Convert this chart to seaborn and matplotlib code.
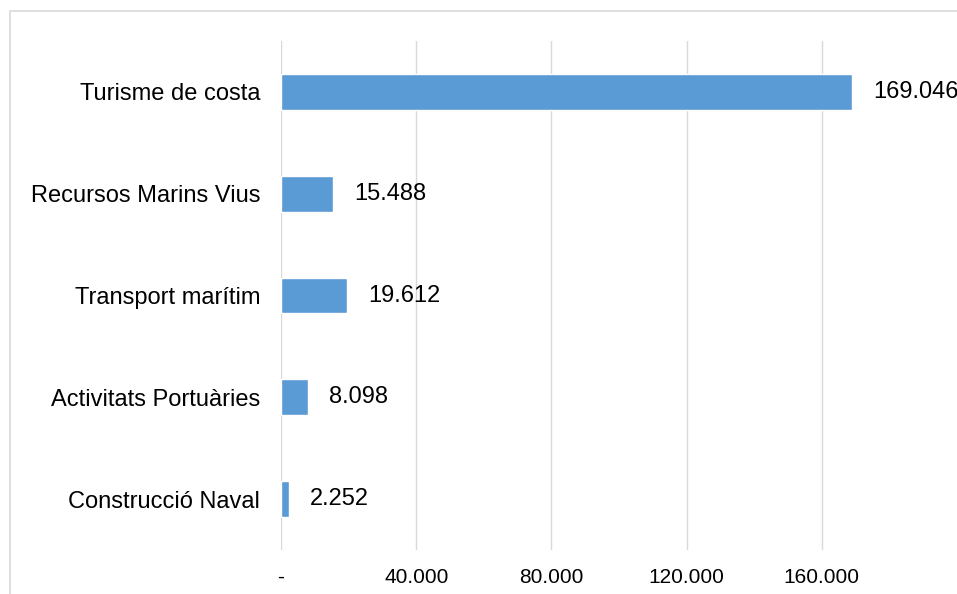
"""Horizontal bar chart: employment by maritime sector."""

import matplotlib.pyplot as plt
import pandas as pd
import seaborn as sns
from matplotlib.patches import Rectangle

sectors = [
    "Turisme de costa",
    "Recursos Marins Vius",
    "Transport marítim",
    "Activitats Portuàries",
    "Construcció Naval",
]
values = [169046, 15488, 19612, 8098, 2252]
tick_values = [0, 40000, 80000, 120000, 160000]
tick_labels = ["-", "40.000", "80.000", "120.000", "160.000"]
x_max = 200000

BAR_COLOR = "#5B9BD5"
GRID_COLOR = "#D9D9D9"


def fmt_thousands(v: float) -> str:
    return f"{int(round(v)):,}".replace(",", ".")


def main() -> None:
    df = pd.DataFrame({"sector": sectors, "value": values})

    sns.set_theme(style="white")
    plt.rcParams["font.family"] = ["Liberation Sans", "DejaVu Sans"]

    fig = plt.figure(figsize=(9.57, 5.94), dpi=100)
    ax = fig.add_axes([281 / 957, 1 - 550 / 594, 1 - 281 / 957, (550 - 41) / 594])

    # outer chart border (cropped on the right and bottom in the reference)
    fig.patches.append(
        Rectangle((9.5 / 957, -0.1), 1.2, 1.1 - 11 / 594,
                  transform=fig.transFigure, fill=False,
                  edgecolor=GRID_COLOR, linewidth=1.2, zorder=0)
    )

    sns.barplot(data=df, x="value", y="sector", orient="h", color=BAR_COLOR,
                width=0.35, saturation=1, ax=ax, zorder=3)

    ax.set_xlim(0, x_max)
    ax.set_xticks(tick_values)
    ax.set_xticklabels(tick_labels, fontsize=15, color="#000000")
    ax.tick_params(axis="x", length=0, pad=13)
    ax.tick_params(axis="y", length=0, pad=15, labelsize=17, labelcolor="#000000")
    ax.grid(axis="x", color=GRID_COLOR, linewidth=1.0, zorder=0)
    ax.grid(axis="y", visible=False)
    ax.set_axisbelow(True)
    for spine in ax.spines.values():
        spine.set_visible(False)
    ax.set_xlabel("")
    ax.set_ylabel("")

    for container in ax.containers:
        ax.bar_label(container, labels=[fmt_thousands(v) for v in container.datavalues],
                     padding=15, fontsize=17, color="#000000", clip_on=False)

    fig.savefig("out.png", dpi=100)
    plt.close(fig)


if __name__ == "__main__":
    main()
